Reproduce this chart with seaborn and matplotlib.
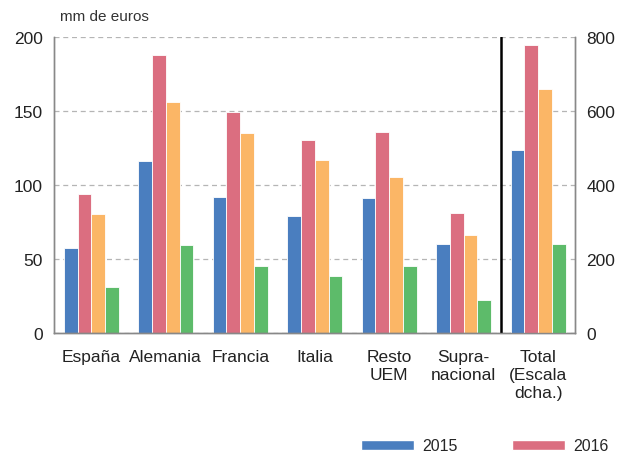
import numpy as np
import pandas as pd
import seaborn as sns
import matplotlib.pyplot as plt
from matplotlib.patches import Patch

# datos (mm de euros)
paises = ['España', 'Alemania', 'Francia', 'Italia', 'Resto\nUEM',
          'Supra-\nnacional', 'Total\n(Escala\ndcha.)']
series = ['2015', '2016', 'S3', 'S4']
v2015 = [57, 116, 92, 79, 91, 60]
v2016 = [94, 188, 149, 130, 136, 81]
v_s3 = [80, 156, 135, 117, 105, 66]
v_s4 = [31, 59, 45, 38.5, 45, 22]
total = [495, 778, 659, 240]   # escala derecha

colores = ['#4a7ebf', '#db6e80', '#fbb666', '#5dbb6a']

rows = []
for i, p in enumerate(paises[:-1]):
    for s, v in zip(series, [v2015, v2016, v_s3, v_s4]):
        rows.append([p, s, v[i]])
df = pd.DataFrame(rows, columns=['pais', 'serie', 'valor'])
df_tot = pd.DataFrame({'pais': paises[-1], 'serie': series, 'valor': total})

sns.set_style('white')
plt.rcParams['font.family'] = ['Liberation Sans', 'DejaVu Sans']

fig, ax = plt.subplots(figsize=(6.22, 4.56), dpi=100)
fig.subplots_adjust(left=0.087, right=0.925, top=0.917, bottom=0.268)
ax2 = ax.twinx()

sns.barplot(data=df, x='pais', y='valor', hue='serie', order=paises,
            hue_order=series, palette=colores, width=0.74, ax=ax,
            saturation=1, edgecolor='white', linewidth=0.6, legend=False)
sns.barplot(data=df_tot, x='pais', y='valor', hue='serie', order=paises,
            hue_order=series, palette=colores, width=0.74, ax=ax2,
            saturation=1, edgecolor='white', linewidth=0.6, legend=False)

ax.set_xlim(-0.5, 6.5)
ax.set_ylim(0, 200)
ax2.set_ylim(0, 800)
ax.set_yticks(range(0, 201, 50))
ax2.set_yticks(range(0, 801, 200))
ax.set_xlabel('')
ax.set_ylabel('')
ax2.set_ylabel('')

ax.grid(axis='y', linestyle=(0, (4, 3)), color='#b5b5b5', linewidth=0.9)
ax.set_axisbelow(True)
ax.axvline(5.5, color='black', linewidth=1.8, zorder=5)

for a in (ax, ax2):
    a.spines['top'].set_visible(False)
    for s in ['left', 'right', 'bottom']:
        a.spines[s].set_color('#888888')
        a.spines[s].set_linewidth(1.0)
    a.tick_params(axis='y', length=0, labelsize=12.5, pad=8, colors='#222222')
ax.set_xticks(np.arange(0.5, 6.5, 1), minor=True)
ax.tick_params(axis='x', which='minor', direction='in', length=5,
               color='#888888')
ax.tick_params(axis='x', which='major', length=0, labelsize=12.5, pad=12,
               colors='#222222')
ax.set_xticklabels(paises, linespacing=1.25, va='top')

fig.text(0.097, 0.962, 'mm de euros', fontsize=11, color='#333333',
         ha='left', va='center')

handles = [Patch(facecolor=colores[0]), Patch(facecolor=colores[1])]
fig.legend(handles, ['2015', '2016'], loc='center', ncol=2,
           bbox_to_anchor=(0.779, 0.02), frameon=False,
           handlelength=3.35, handleheight=0.55, handletextpad=0.5,
           columnspacing=3.4, fontsize=11.5, borderpad=0, borderaxespad=0)

plt.savefig('out.png', dpi=100)
